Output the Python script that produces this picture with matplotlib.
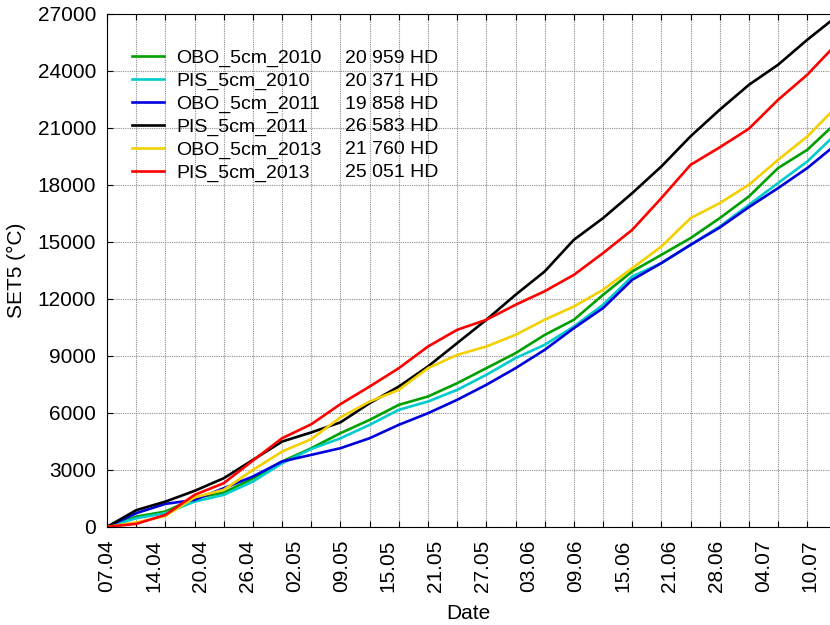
"""Cumulative SET5 (degree-hours) at 5 cm, OBO vs PIS, seasons 2010/2011/2013."""

import numpy as np
import matplotlib

matplotlib.use("Agg")
import matplotlib.pyplot as plt
from matplotlib.lines import Line2D

plt.rcParams["font.family"] = ["Liberation Sans", "DejaVu Sans"]

# x position in grid steps (one vertical grid line per step), last one is the end of record
pos = list(range(25)) + [24.78]

date_labels = ["07.04", "14.04", "20.04", "26.04", "02.05", "09.05", "15.05", "21.05",
               "27.05", "03.06", "09.06", "15.06", "21.06", "28.06", "04.07", "10.07"]

names = ["OBO_5cm_2010", "PIS_5cm_2010", "OBO_5cm_2011",
         "PIS_5cm_2011", "OBO_5cm_2013", "PIS_5cm_2013"]
totals = ["20 959 HD", "20 371 HD", "19 858 HD", "26 583 HD", "21 760 HD", "25 051 HD"]
colors = ["#00a000", "#00cccc", "#0000dd", "#000000", "#f5d000", "#ff0000"]

obo_2010 = [0, 540, 805, 1510, 1805, 2550, 3440, 4140, 4930, 5630, 6420, 6860, 7560,
            8350, 9140, 10100, 10895, 12210, 13440, 14315, 15195, 16245, 17385, 18880,
            19840, 20959]
pis_2010 = [0, 455, 720, 1330, 1685, 2385, 3350, 4100, 4660, 5370, 6160, 6595, 7210,
            8000, 8880, 9580, 10540, 11685, 13175, 13880, 14840, 15805, 16945, 18090,
            19225, 20371]
obo_2011 = [0, 720, 1210, 1420, 2035, 2650, 3440, 3790, 4140, 4665, 5370, 5980, 6685,
            7475, 8350, 9315, 10455, 11510, 13000, 13880, 14840, 15750, 16825, 17825,
            18880, 19858]
pis_2011 = [0, 880, 1330, 1895, 2560, 3525, 4490, 4970, 5500, 6510, 7385, 8440, 9670,
            10895, 12210, 13440, 15105, 16245, 17560, 18965, 20550, 21950, 23260, 24315,
            25630, 26583]
obo_2013 = [0, 230, 580, 1550, 1950, 3000, 3965, 4620, 5760, 6595, 7210, 8350, 9050,
            9490, 10105, 10900, 11595, 12475, 13615, 14750, 16245, 17035, 18000, 19315,
            20540, 21760]
pis_2013 = [0, 160, 630, 1685, 2300, 3490, 4665, 5400, 6460, 7385, 8350, 9490, 10370,
            10895, 11685, 12400, 13260, 14405, 15630, 17300, 19050, 19970, 20950, 22470,
            23790, 25051]
series = [obo_2010, pis_2010, obo_2011, pis_2011, obo_2013, pis_2013]

fig = plt.figure(figsize=(8.3, 6.25), dpi=100)
ax = fig.add_axes([0.129, 0.157, 0.871, 0.821])

handles = []
for s, c in zip(series, colors):
    (ln,) = ax.plot(pos, s, color=c, lw=1.9, solid_joinstyle="round")
    handles.append(ln)

ax.set_xlim(0, 24.78)
ax.set_ylim(0, 27000)
ax.set_yticks(np.arange(0, 27001, 3000))
ax.set_xticks(np.arange(0, 25))
ax.set_xticklabels([])
ax.xaxis.remove_overlapping_locs = False
ax.set_xticks(np.arange(len(date_labels)) * 1.607, minor=True)
ax.set_xticklabels(date_labels, minor=True, rotation=90, fontsize=15)
ax.tick_params(axis="x", which="minor", length=0, pad=9)
ax.tick_params(which="major", direction="in", length=4, top=True, labelsize=15)
ax.tick_params(axis="y", pad=8)
ax.grid(True, which="major", color="#8c8c8c", ls=(0, (1, 1)), lw=0.8)
ax.spines["right"].set_visible(False)

ax.set_xlabel("Date", fontsize=15, labelpad=9)
ax.set_ylabel("SET5 (°C)", fontsize=15, labelpad=8)

blank = [Line2D([], [], alpha=0) for _ in totals]
ax.legend(handles + blank, names + totals, ncol=2, loc="upper left",
          bbox_to_anchor=(0.01, 0.965), frameon=False, fontsize=14,
          handlelength=1.65, handletextpad=0.65, labelspacing=0.27,
          columnspacing=-1.1)

fig.savefig("out.png", dpi=100)
